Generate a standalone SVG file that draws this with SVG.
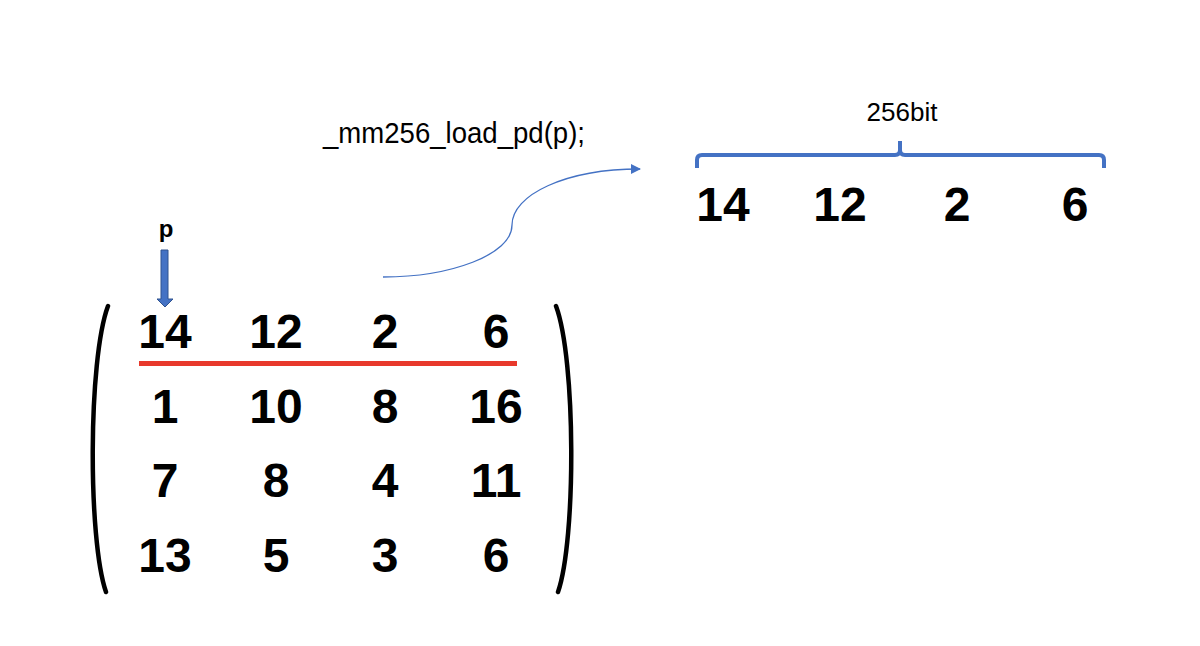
<svg xmlns="http://www.w3.org/2000/svg" width="1200" height="646" viewBox="0 0 1200 646">
<defs>
<style>
.num{font-family:"Liberation Sans",Arial,sans-serif;font-weight:bold;font-size:48px;fill:#000;text-anchor:middle}
.lbl{font-family:"Liberation Sans",Arial,sans-serif;fill:#000}
.paren{fill:none;stroke:#000;stroke-width:4.5;stroke-linecap:round}
.blue{stroke:#4472C4;fill:none}
</style>
<marker id="ah" viewBox="0 0 10 10" refX="9" refY="5" markerWidth="10" markerHeight="10" markerUnits="userSpaceOnUse" orient="auto">
<path d="M0,0 L10,5 L0,10 Z" fill="#4472C4"/>
</marker>
</defs>
<rect width="1200" height="646" fill="#fff"/>

<g id="code-label">
<text class="lbl" x="323" y="143" font-size="29" textLength="262" lengthAdjust="spacingAndGlyphs">_mm256_load_pd(p);</text>
</g>

<g id="bits-label">
<text class="lbl" x="902" y="121" font-size="26" text-anchor="middle">256bit</text>
</g>

<g id="brace">
<path class="blue" stroke-width="4" d="M697,168 L697,160 Q697,155 702,155 L895,155 Q900,155 900,150 L900,141 M900,150 Q900,155 905,155 L1099,155 Q1104,155 1104,160 L1104,168"/>
</g>

<g id="register">
<text class="num" x="723" y="221">14</text>
<text class="num" x="840" y="221">12</text>
<text class="num" x="957" y="221">2</text>
<text class="num" x="1075" y="221">6</text>
</g>

<g id="pointer">
<text class="lbl" x="166" y="237" font-size="24" font-weight="bold" text-anchor="middle">p</text>
<path d="M161,250 L168,250 L168,299 L173,299 L165,307 L157,299 L161,299 Z" fill="#4472C4" stroke="#2F528F" stroke-width="1"/>
</g>

<g id="matrix">
<path class="paren" d="M108,306 C88,360 88,540 106,592"/>
<path class="paren" d="M556,306 C576,360 576,540 558,592"/>
<line x1="139" y1="363.5" x2="517" y2="363.5" stroke="#E8392C" stroke-width="5"/>
<text class="num" x="165" y="348">14</text>
<text class="num" x="276" y="348">12</text>
<text class="num" x="385" y="348">2</text>
<text class="num" x="496" y="348">6</text>
<text class="num" x="165" y="423">1</text>
<text class="num" x="276" y="423">10</text>
<text class="num" x="385" y="423">8</text>
<text class="num" x="496" y="423">16</text>
<text class="num" x="165" y="497">7</text>
<text class="num" x="276" y="497">8</text>
<text class="num" x="385" y="497">4</text>
<text class="num" x="496" y="497">11</text>
<text class="num" x="165" y="572">13</text>
<text class="num" x="276" y="572">5</text>
<text class="num" x="385" y="572">3</text>
<text class="num" x="496" y="572">6</text>
</g>

<g id="connectors">
<path class="blue" stroke-width="1.3" d="M383,277 C450,277 512,255 512,225 C512,195 565,169 640,169" marker-end="url(#ah)"/>
</g>
</svg>
